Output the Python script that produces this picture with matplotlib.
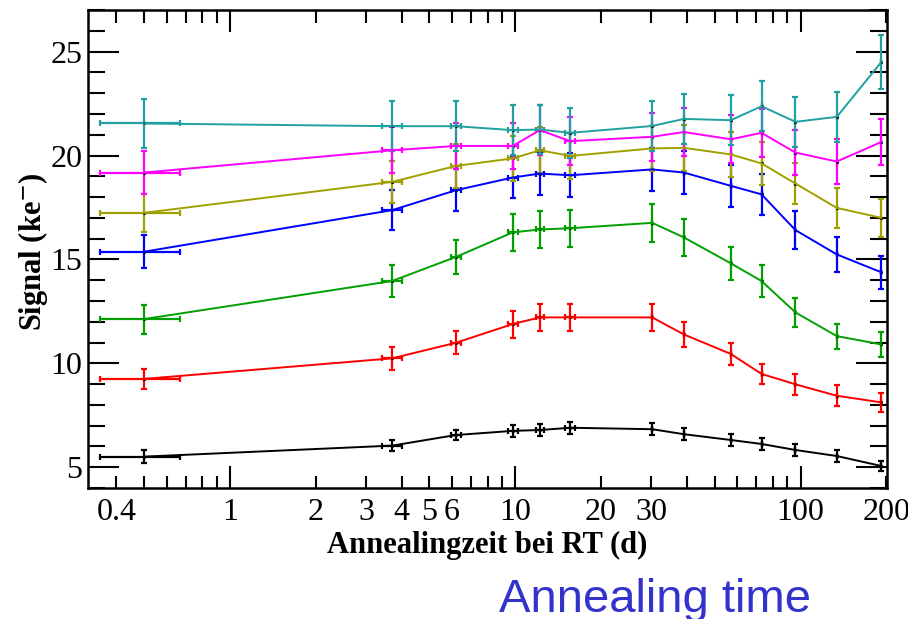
#signal vs annealing time at room temperature
import matplotlib
matplotlib.use('Agg')
import matplotlib.pyplot as plt
from matplotlib.ticker import FixedLocator, FuncFormatter

import numpy as np

plt.rcParams['font.family'] = ['Liberation Serif', 'DejaVu Serif']
plt.rcParams['mathtext.fontset'] = 'stix'

#annealing times (days)
days = [0.5, 3.7, 6.2, 9.8, 12.2, 15.6, 30.2, 39, 57, 73, 96, 134, 192]
days_err_lo = [0.15, 0.3, 0.25, 0.4, 0.4, 0.6, 0, 0, 0, 0, 0, 0, 0]
days_err_hi = [0.17, 0.3, 0.25, 0.4, 0.4, 0.6, 0, 0, 0, 0, 0, 0, 0]

#signal (ke-) for each sample
sig_black = [5.51, 6.04, 6.55, 6.75, 6.79, 6.90, 6.83, 6.59, 6.31, 6.12, 5.83, 5.54, 5.06]
sig_red = [9.25, 10.24, 10.99, 11.89, 12.21, 12.21, 12.21, 11.39, 10.45, 9.49, 8.99, 8.44, 8.12]
sig_green = [12.13, 13.96, 15.12, 16.30, 16.44, 16.50, 16.76, 16.06, 14.81, 13.96, 12.45, 11.31, 10.91]
sig_blue = [15.37, 17.37, 18.33, 18.94, 19.13, 19.05, 19.33, 19.18, 18.54, 18.13, 16.41, 15.24, 14.38]
sig_olive = [17.24, 18.73, 19.50, 19.86, 20.25, 19.98, 20.34, 20.37, 20.05, 19.62, 18.65, 17.48, 17.00]
sig_magenta = [19.18, 20.25, 20.46, 20.46, 21.22, 20.69, 20.90, 21.13, 20.78, 21.09, 20.14, 19.71, 20.65]
sig_teal = [21.54, 21.41, 21.41, 21.22, 21.25, 21.09, 21.42, 21.76, 21.70, 22.37, 21.62, 21.86, 24.50]

err_black = [0.3, 0.25, 0.25, 0.3, 0.3, 0.3, 0.3, 0.3, 0.3, 0.3, 0.3, 0.3, 0.25]
err_red = [0.5, 0.55, 0.55, 0.65, 0.65, 0.65, 0.65, 0.6, 0.55, 0.5, 0.5, 0.5, 0.45]
err_green = [0.7, 0.75, 0.8, 0.9, 0.9, 0.9, 0.9, 0.9, 0.8, 0.75, 0.7, 0.6, 0.6]
err_blue = [0.8, 0.95, 1.0, 1.0, 1.05, 1.05, 1.05, 1.05, 1.0, 1.0, 0.9, 0.85, 0.8]
err_olive = [0.9, 1.0, 1.05, 1.1, 1.1, 1.1, 1.1, 1.1, 1.1, 1.05, 1.0, 0.95, 0.9]
err_magenta = [1.05, 1.1, 1.1, 1.1, 1.2, 1.15, 1.15, 1.15, 1.15, 1.15, 1.1, 1.1, 1.1]
err_teal = [1.2, 1.2, 1.2, 1.2, 1.2, 1.2, 1.2, 1.2, 1.2, 1.2, 1.2, 1.2, 1.3]

series = [
    (sig_black, err_black, 'black'),
    (sig_red, err_red, '#ff0000'),
    (sig_green, err_green, '#00a000'),
    (sig_blue, err_blue, '#0000ff'),
    (sig_olive, err_olive, '#a0a000'),
    (sig_magenta, err_magenta, '#ff00ff'),
    (sig_teal, err_teal, '#20a0a0'),
]

fig = plt.figure(figsize=(9.08, 6.19), dpi=100)
ax = fig.add_axes([0.0969, 0.2116, 0.88, 0.7722])

for sig, err, col in series:
    ax.errorbar(days, sig, yerr=err, xerr=[days_err_lo, days_err_hi],
                fmt='-', color=col, lw=1.4, elinewidth=1.6,
                capsize=2.5, capthick=1.6)
    ax.plot(days, sig, 'o', color='black', ms=2.2, mew=0)

ax.set_xscale('log')
ax.set_xlim(0.318, 201)
ax.set_ylim(4, 27)

#x ticks: long ones at decades, labels on a few minor ones too
minor_x = [m * d for d in (0.1, 1, 10) for m in range(2, 10) if 0.3 < m * d < 100]
minor_x = [v for v in minor_x if v not in (1, 10, 100)] + [200]
labelled = {0.4: '0.4', 2: '2', 3: '3', 4: '4', 5: '5', 6: '6',
            20: '20', 30: '30', 200: '200'}
ax.xaxis.set_major_locator(FixedLocator([1, 10, 100]))
ax.xaxis.set_major_formatter(FuncFormatter(lambda v, p: '%g' % v))
ax.xaxis.set_minor_locator(FixedLocator(minor_x))
ax.xaxis.set_minor_formatter(FuncFormatter(
    lambda v, p: next((s for k, s in labelled.items() if abs(v - k) < 1e-6 * k), '')))

ax.yaxis.set_major_locator(FixedLocator([5, 10, 15, 20, 25]))
ax.yaxis.set_minor_locator(FixedLocator(list(range(4, 28))))

ax.tick_params(which='both', direction='in', top=True, right=True,
               labelsize=23, width=1.5)
ax.tick_params(axis='x', which='major', length=16, pad=7)
ax.tick_params(axis='x', which='minor', length=9, pad=7)
ax.tick_params(axis='y', which='major', length=22, pad=4)
ax.tick_params(axis='y', which='minor', length=12, pad=4)
for s in ax.spines.values():
    s.set_linewidth(1.8)

fig.text(0.537, 0.1066, 'Annealingzeit bei RT (d)', ha='center', va='baseline',
         fontsize=22, fontweight='bold')
fig.text(0.036, 0.593, r'Signal (ke$^{\mathbf{-}}$)', ha='center', va='center',
         rotation=90, fontsize=22, fontweight='bold')
fig.text(0.7214, 0.0113, 'Annealing time', ha='center', va='baseline',
         fontsize=34, color='#3333cc', family='Liberation Sans')

plt.savefig('out.png')
